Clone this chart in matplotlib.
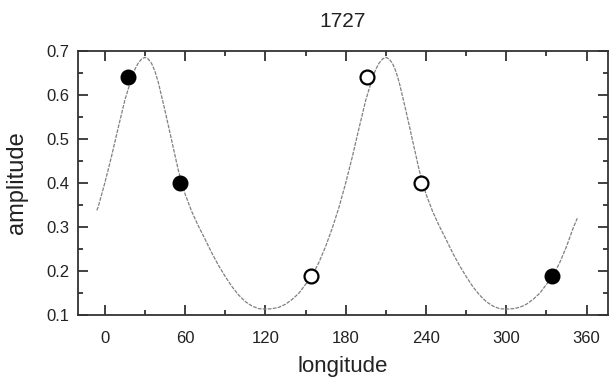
import matplotlib
matplotlib.use("Agg")
import matplotlib.pyplot as plt
from matplotlib.ticker import MultipleLocator

plt.rcParams['font.family'] = ['Liberation Sans', 'DejaVu Sans']

# measured points
lon_filled = [17, 56, 334]
amp_filled = [0.64, 0.40, 0.19]
lon_open = [154, 196, 236]
amp_open = [0.19, 0.64, 0.40]

# fitted curve
lon_fit = [-6, -5, 0, 5, 10, 15, 20, 22.5, 25, 27.5, 30, 32.5, 35, 37.5, 40, 45,
           50, 55, 60, 65, 70, 75, 80, 85, 90, 95, 100, 105, 110, 115, 120, 125,
           130, 135, 140, 145, 150, 155, 160, 165, 170, 175, 180, 185, 190, 195,
           200, 202.5, 205, 207.5, 210, 212.5, 215, 217.5, 220, 225, 230, 235,
           240, 245, 250, 255, 260, 265, 270, 275, 280, 285, 290, 295, 300, 305,
           310, 315, 320, 325, 330, 335, 340, 345, 350, 353]
amp_fit = [0.338, 0.345, 0.400, 0.460, 0.525, 0.588, 0.638, 0.658, 0.672, 0.681,
           0.685, 0.681, 0.671, 0.653, 0.628, 0.564, 0.496, 0.428, 0.375, 0.335,
           0.302, 0.272, 0.241, 0.213, 0.188, 0.165, 0.146, 0.131, 0.121, 0.115,
           0.114, 0.115, 0.118, 0.125, 0.136, 0.150, 0.170, 0.190, 0.220, 0.256,
           0.298, 0.345, 0.400, 0.460, 0.525, 0.588, 0.638, 0.658, 0.672, 0.681,
           0.685, 0.681, 0.671, 0.653, 0.628, 0.564, 0.496, 0.428, 0.375, 0.335,
           0.302, 0.272, 0.241, 0.213, 0.188, 0.165, 0.146, 0.131, 0.121, 0.115,
           0.114, 0.115, 0.118, 0.125, 0.136, 0.150, 0.170, 0.190, 0.220, 0.256,
           0.298, 0.320]

fig = plt.figure(figsize=(6.11, 3.78), dpi=100)
ax = fig.add_axes([0.1277, 0.1659, 0.8674, 0.70])

ax.plot(lon_fit, amp_fit, color='#808080', lw=0.9, ls=(0, (3, 1)), zorder=2)
ax.plot(lon_filled, amp_filled, 'o', color='black', ms=10.5, zorder=3)
ax.plot(lon_open, amp_open, 'o', mfc='white', mec='black', mew=1.6, ms=10, zorder=3)

ax.set_xlim(-20, 376)
ax.set_ylim(0.1, 0.7)
ax.xaxis.set_major_locator(MultipleLocator(60))
ax.xaxis.set_minor_locator(MultipleLocator(30))
ax.yaxis.set_major_locator(MultipleLocator(0.1))
ax.yaxis.set_minor_locator(MultipleLocator(0.05))
ax.tick_params(which='both', direction='in', top=True, right=True, width=1.3,
               color='#333333', labelsize=12, labelcolor='#222222')
ax.tick_params(which='major', length=7)
ax.tick_params(which='minor', length=3.5)
ax.tick_params(axis='x', which='major', pad=11)
ax.tick_params(axis='y', which='major', pad=6)
for s in ax.spines.values():
    s.set_linewidth(1.3)
    s.set_color('#333333')

ax.set_xlabel('longitude', fontsize=16, color='#222222')
ax.set_ylabel('amplitude', fontsize=17, color='#222222')
ax.xaxis.set_label_coords(0.5, -0.155)
ax.yaxis.set_label_coords(-0.094, 0.5)
ax.set_title('1727', fontsize=15, pad=17, color='#222222')

fig.savefig('out.png', dpi=100)
